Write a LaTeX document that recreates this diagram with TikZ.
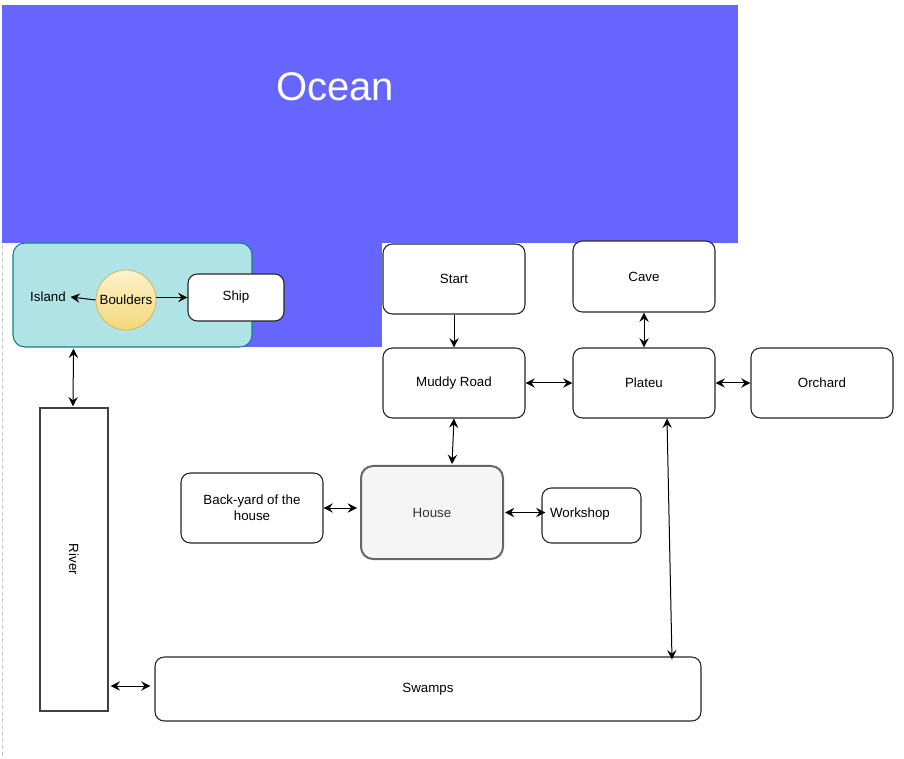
\documentclass[tikz,border=0pt]{standalone}
\usepackage{fontspec}
\setmainfont{Liberation Sans}
\usetikzlibrary{arrows.meta,fit,calc}
\definecolor{oceanblue}{HTML}{6666FF}
\definecolor{islandfill}{HTML}{B0E3E6}
\definecolor{islanddraw}{HTML}{0E8088}
\definecolor{bouldtop}{HTML}{FFF2CC}
\definecolor{bouldbot}{HTML}{F2D878}
\definecolor{boulddraw}{HTML}{D6B656}
\definecolor{housefill}{HTML}{F5F5F5}
\definecolor{housedraw}{HTML}{666666}
\definecolor{housetext}{HTML}{333333}
\tikzset{
  every node/.style={font=\fontsize{10}{12}\selectfont},
  rbox/.style={draw=black!85, line width=0.8pt, rounded corners=7pt, fill=white, inner sep=0pt, align=center},
  plainbox/.style={draw=black!75, line width=1pt, fill=white, inner sep=0pt},
  dbl/.style={line width=0.75pt, {Stealth[length=7pt,width=7pt,inset=2.5pt]}-{Stealth[length=7pt,width=7pt,inset=2.5pt]}},
  arr/.style={line width=0.75pt, -{Stealth[length=7pt,width=7pt,inset=2.5pt]}},
}
\begin{document}
\begin{tikzpicture}[x=0.75pt,y=-0.75pt]
\useasboundingbox (0,0) rectangle (904,759);
% background areas
\fill[oceanblue] (2,5) rectangle (738,243);
\fill[oceanblue] (130,243) rectangle (382,347);
\node[text=white, font=\fontsize{30}{36}\selectfont] (oceanlbl) at (335,87) {Ocean};
\draw[gray!45, line width=0.6pt, dash pattern=on 3pt off 2pt] (2,245) -- (2,759);
% island group
\node[draw=islanddraw, fill=islandfill, line width=0.8pt, rounded corners=9pt, inner sep=0pt, fit={(13,243)(252,347)}] (island) {};
\node (islandlbl) at (48,297) {Island};
\node[circle, draw=boulddraw, line width=0.6pt, top color=bouldtop, bottom color=bouldbot, minimum size={60*0.75pt}, inner sep=0pt] (boulders) at (126,300) {Boulders};
\node[rbox, fit={(188,274)(284,321)}] (ship) {};
\node at (ship.center) {Ship};
% main boxes
\node[rbox, fit={(383,244)(525,314)}] (start) {};
\node at (start.center) {Start};
\node[rbox, fit={(383,348)(525,418)}] (muddy) {};
\node at (muddy.center) {Muddy Road};
\node[rbox, fit={(573,241)(715,312)}] (cave) {};
\node at (cave.center) {Cave};
\node[rbox, fit={(573,348)(715,418)}] (plateau) {};
\node at (plateau.center) {Plateu};
\node[rbox, fit={(751,348)(893,418)}] (orchard) {};
\node at (orchard.center) {Orchard};
\node[draw=housedraw, fill=housefill, line width=1.5pt, rounded corners=9pt, inner sep=0pt, fit={(361,466)(503,559)}] (house) {};
\node[text=housetext] at (house.center) {House};
\node[rbox, fit={(181,473)(323,543)}] (backyard) {};
\node[align=center] at (backyard.center) {Back-yard of the\\house};
\node[rbox, fit={(542,488)(641,543)}] (workshop) {};
\node (workshoplbl) at (580,514) {Workshop};
\node[rbox, fit={(155,657)(701,721)}] (swamps) {};
\node at (swamps.center) {Swamps};
\node[plainbox, rotate=-90, minimum width={303*0.75pt}, minimum height={68*0.75pt}] (river) at (74,559.5) {River};
% connectors
\draw[arr] (boulders.west) -- (islandlbl.east);
\draw[arr] (boulders.east |- ship.west) -- (ship.west);
\draw[dbl] ($(island.south)+(-59,1)$) -- ($(river.west)+(-1,-1)$);
\draw[dbl] ($(river.north |- swamps.west)+(2,-3)$) -- ($(swamps.west)+(-4,-3)$);
\draw[arr] (start.south) -- (muddy.north);
\draw[dbl] (muddy.east) -- (plateau.west);
\draw[dbl] (cave.south) -- (plateau.north);
\draw[dbl] (plateau.east) -- (orchard.west);
\draw[dbl] (muddy.south) -- ($(house.north)+(20,-1)$);
\draw[dbl] (backyard.east) -- ($(house.west |- backyard.east)+(-3,0)$);
\draw[dbl] ($(house.east)+(1,0)$) -- ($(workshop.west |- house.east)+(4,0)$);
\draw[dbl] ($(plateau.south)+(23,0)$) -- ($(swamps.north)+(244,3)$);
\end{tikzpicture}
\end{document}
